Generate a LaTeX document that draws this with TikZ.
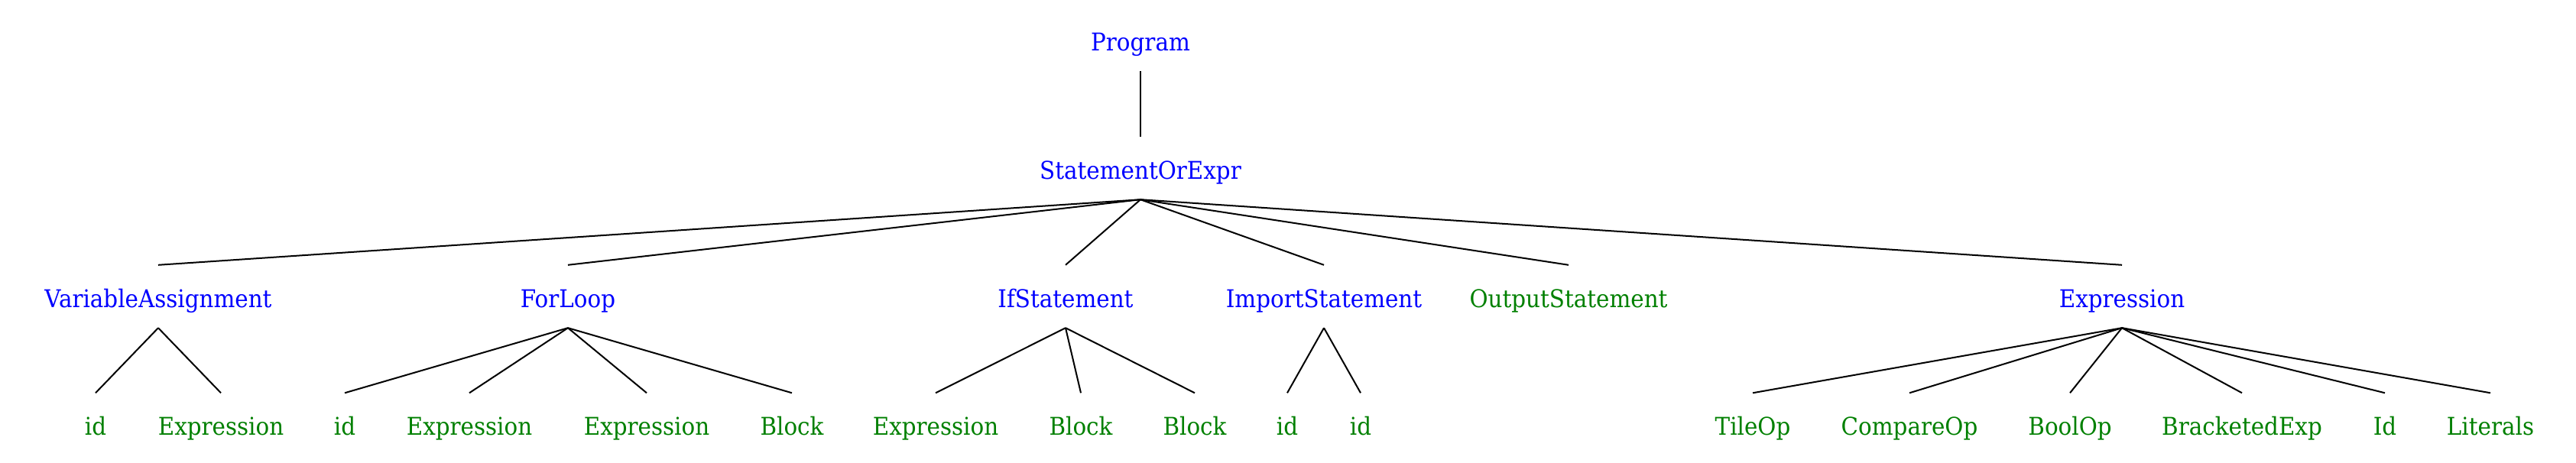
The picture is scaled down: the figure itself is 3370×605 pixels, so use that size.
\documentclass[tikz,border=0pt]{standalone}
\usepackage{fontspec}
\setmainfont[FakeStretch=0.918]{DejaVu Serif}
\definecolor{ntblue}{RGB}{0,0,255}
\definecolor{ntgreen}{RGB}{0,128,0}
\begin{document}
\begin{tikzpicture}[x=1pt,y=-1pt,
  tnode/.style={rectangle,inner sep=0pt,minimum height=82pt,text height=30pt,text depth=2pt,
    font=\fontsize{32}{38}\selectfont},
  nonterm/.style={tnode,text=ntblue},
  term/.style={tnode,text=ntgreen},
  edge/.style={draw=black,line width=2pt}]
\useasboundingbox (0,0) rectangle (3370,605);
% level 0/1
\node[nonterm] (prog) at (1492,52) {Program};
\node[nonterm] (soe) at (1492,220) {StatementOrExpr};
% level 2
\node[nonterm] (va) at (207,388) {VariableAssignment};
\node[nonterm] (for) at (743,388) {ForLoop};
\node[nonterm] (if) at (1394,388) {IfStatement};
\node[nonterm] (imp) at (1732,388) {ImportStatement};
\node[term] (out) at (2052,388) {OutputStatement};
\node[nonterm] (expr) at (2776,388) {Expression};
% level 3
\node[term] (va1) at (125,555.5) {id};
\node[term] (va2) at (289,555.5) {Expression};
\node[term] (f1) at (451,555.5) {id};
\node[term] (f2) at (614,555.5) {Expression};
\node[term] (f3) at (846,555.5) {Expression};
\node[term] (f4) at (1036,555.5) {Block};
\node[term] (i1) at (1224,555.5) {Expression};
\node[term] (i2) at (1414,555.5) {Block};
\node[term] (i3) at (1563,555.5) {Block};
\node[term] (m1) at (1684,555.5) {id};
\node[term] (m2) at (1780,555.5) {id};
\node[term] (e1) at (2293,555.5) {TileOp};
\node[term] (e2) at (2498,555.5) {CompareOp};
\node[term] (e3) at (2708,555.5) {BoolOp};
\node[term] (e4) at (2933,555.5) {BracketedExp};
\node[term] (e5) at (3120,555.5) {Id};
\node[term] (e6) at (3258,555.5) {Literals};
% edges
\path[edge] (prog.south) -- (soe.north);
\foreach \c in {va,for,if,imp,out,expr} \path[edge] (soe.south) -- (\c.north);
\foreach \c in {va1,va2} \path[edge] (va.south) -- (\c.north);
\foreach \c in {f1,f2,f3,f4} \path[edge] (for.south) -- (\c.north);
\foreach \c in {i1,i2,i3} \path[edge] (if.south) -- (\c.north);
\foreach \c in {m1,m2} \path[edge] (imp.south) -- (\c.north);
\foreach \c in {e1,e2,e3,e4,e5,e6} \path[edge] (expr.south) -- (\c.north);
\end{tikzpicture}
\end{document}
